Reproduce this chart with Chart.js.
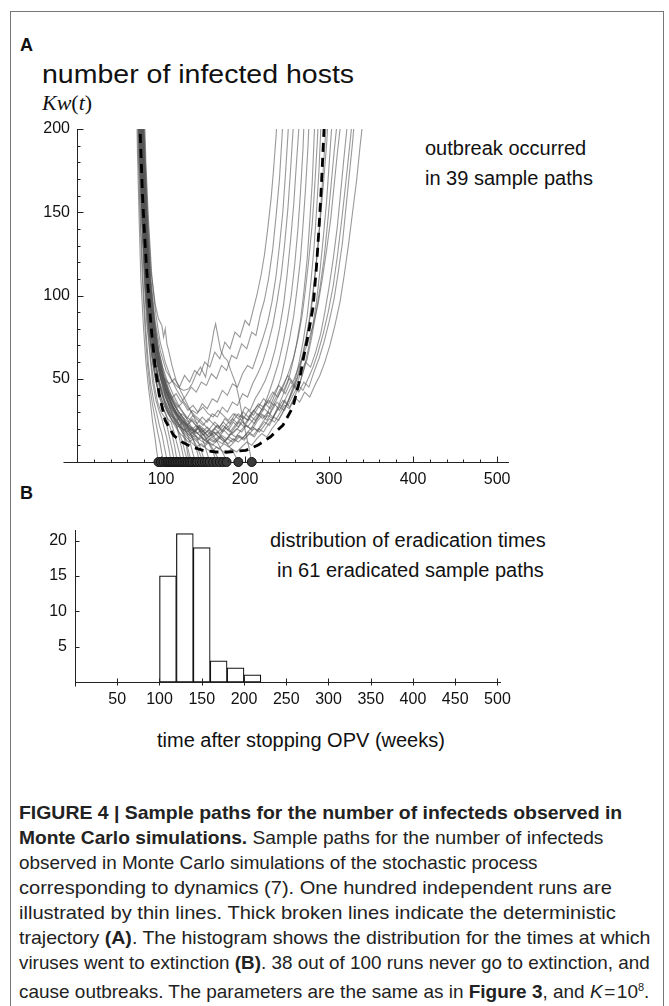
<!DOCTYPE html>
<html>
<head>
<meta charset="utf-8">
<script src="https://cdn.jsdelivr.net/npm/chart.js@4.4.0/dist/chart.umd.min.js"></script>
<style>
body { margin: 0; background: #fff; width: 669px; height: 1006px; position: relative; overflow: hidden;
       font-family: "Liberation Sans", Arial, sans-serif; color: #111; }
#frame { position: absolute; left: 10px; top: 11px; width: 654px; height: 1010px; border: 1px solid #777; box-sizing: border-box; }
.lbl { position: absolute; white-space: nowrap; line-height: 1; transform-origin: 0 50%; }
.note { font-size: 20px; }
.panel { font-size: 18px; font-weight: bold; }
canvas { position: absolute; left: 0; }
#caption { position: absolute; left: 19px; top: 800px; font-size: 19px; line-height: 25px; color: #222; white-space: nowrap; }
#caption .ln { display: inline-block; transform-origin: 0 50%; }
</style>
</head>
<body>
<div id="frame"></div>

<div class="lbl panel" style="left:20px;top:36px">A</div>
<div class="lbl" style="left:42px;top:62px;font-size:25px;transform:scaleX(1.14)">number of infected hosts</div>
<div class="lbl" style="left:42px;top:92px;font-size:22px;font-family:'Liberation Serif',serif"><i>Kw</i>(<i>t</i>)</div>
<div class="lbl note" style="left:425px;top:138px">outbreak occurred</div>
<div class="lbl note" style="left:425px;top:168px">in 39 sample paths</div>

<div class="lbl panel" style="left:20px;top:484px">B</div>
<div class="lbl note" style="left:270px;top:530px">distribution of eradication times</div>
<div class="lbl note" style="left:277px;top:560px">in 61 eradicated sample paths</div>
<div class="lbl note" style="left:157px;top:730px">time after stopping OPV (weeks)</div>

<canvas id="chartA" width="669" height="390" style="top:110px"></canvas>
<canvas id="chartB" width="669" height="230" style="top:505px"></canvas>

<div id="caption">
<div><span class="ln"><b>FIGURE 4 | Sample paths for the number of infecteds observed in</b></span></div>
<div><span class="ln"><b>Monte Carlo simulations.</b> Sample paths for the number of infecteds</span></div>
<div><span class="ln">observed in Monte Carlo simulations of the stochastic process</span></div>
<div><span class="ln">corresponding to dynamics (7). One hundred independent runs are</span></div>
<div><span class="ln">illustrated by thin lines. Thick broken lines indicate the deterministic</span></div>
<div><span class="ln">trajectory <b>(A)</b>. The histogram shows the distribution for the times at which</span></div>
<div><span class="ln">viruses went to extinction <b>(B)</b>. 38 out of 100 runs never go to extinction, and</span></div>
<div><span class="ln">cause outbreaks. The parameters are the same as in <b>Figure 3</b>, and <i>K</i>&#8202;=&#8202;10<sup style="font-size:11px">8</sup>.</span></div>
</div>

<script>
// panel A: deterministic trajectory (thick dashed line), [week, hosts]
const deterministicPath = [[74,215],[76,187],[78,160],[80,140],[83,115],[86,95],[89,77],[93,57],[98,40],[105,25],
    [115,16],[125,12],[137,9],[150,7],[165,6],[180,6],[201,7],[215,10],[230,15],[245,22],[257,33],[264,47],
    [269,61],[275,76],[281,93],[285,117],[288,140],[291,167],[294,200],[295,215]];

// sample paths that went extinct
const extinctPaths = [
    [[71,215],[72,185],[74,145],[76,110],[79,82],[82,60],[85,45],[88,33],[90,24],[93,14],[95,6],[97,0]],
    [[72,215],[73,185],[75,148],[78,108],[81,80],[84,58],[87,44],[90,34],[93,26],[96,18],[99,11],[101,5],[103,0]],
    [[72,215],[74,180],[76,142],[79,105],[82,79],[85,59],[88,46],[92,35],[95,29],[98,22],[101,17],[104,9],[106,4],[108,0]],
    [[73,215],[74,186],[77,146],[80,110],[83,84],[87,63],[90,48],[94,37],[98,30],[101,26],[104,20],[107,14],[110,6],[112,0]],
    [[73,215],[75,182],[78,141],[81,106],[84,82],[88,61],[92,46],[96,36],[100,30],[104,27],[107,22],[110,15],[113,8],[116,0]],
    [[74,215],[76,180],[79,140],[82,107],[86,81],[90,62],[94,49],[98,39],[102,33],[106,28],[110,22],[113,17],[116,10],[118,4],[120,0]],
    [[74,215],[76,183],[78,150],[81,112],[85,85],[89,64],[93,50],[98,40],[103,32],[108,26],[112,24],[116,17],[119,11],[122,5],[124,0]],
    [[75,215],[77,180],[80,141],[83,108],[87,83],[91,65],[96,51],[101,41],[106,34],[111,29],[115,26],[119,21],[122,14],[125,7],[128,0]],
    [[75,215],[77,184],[80,144],[84,106],[88,82],[93,62],[98,48],[103,38],[108,30],[113,25],[118,22],[122,17],[126,11],[129,5],[132,0]],
    [[74,215],[76,178],[79,139],[83,103],[88,78],[93,60],[99,47],[105,39],[111,33],[117,28],[122,22],[126,17],[130,10],[132,4],[134,0]],
    [[76,215],[78,182],[81,142],[85,107],[89,84],[94,66],[99,53],[104,44],[109,36],[114,31],[119,28],[124,22],[128,16],[132,8],[136,0]],
    [[76,215],[79,176],[82,138],[86,104],[91,80],[96,62],[101,49],[106,40],[111,34],[116,30],[121,26],[126,23],[131,17],[135,11],[138,5],[141,0]],
    [[77,215],[79,180],[82,145],[86,109],[90,86],[95,69],[100,56],[105,47],[110,40],[116,34],[121,30],[127,26],[132,21],[137,15],[142,8],[146,0]],
    [[73,215],[75,178],[78,139],[82,103],[86,78],[91,58],[96,45],[102,36],[108,29],[114,25],[120,21],[126,24],[132,19],[138,14],[143,9],[147,4],[150,0]],
    [[78,215],[80,183],[83,147],[87,111],[92,85],[97,67],[102,57],[108,48],[114,41],[120,35],[126,30],[132,25],[138,19],[143,14],[148,7],[152,0]],
    [[79,215],[81,185],[84,150],[88,115],[93,95],[97,86],[101,82],[103,75],[105,80],[107,71],[109,67],[113,58],[118,49],[124,42],
     [130,36],[136,30],[142,24],[147,17],[152,10],[155,5],[158,0]],
    [[78,215],[81,175],[84,138],[88,104],[93,79],[98,62],[104,50],[110,42],[117,36],[124,31],[131,27],[138,24],[145,20],[151,16],[157,11],[162,6],[166,0]],
    [[75,215],[77,181],[80,143],[84,108],[89,83],[94,64],[100,50],[106,41],[112,35],[118,30],[124,26],[130,23],[136,19],[142,22],[148,18],[154,14],[159,10],[164,6],[168,2],[170,0]],
    [[80,215],[82,180],[85,146],[89,112],[94,88],[99,72],[105,60],[112,50],[119,43],[126,37],[133,32],[140,28],[147,25],[154,21],[161,17],[167,12],[172,7],[176,3],[178,0]],
    [[77,215],[80,170],[83,133],[87,101],[92,77],[98,58],[104,46],[111,37],[118,30],[125,25],[132,21],[139,18],[146,22],[153,19],[160,16],[167,18],[174,14],[180,10],[185,7],[189,3],[192,0]],
    [[79,215],[81,180],[84,145],[88,110],[93,85],[99,67],[106,55],[113,49],[120,45],[127,43],[133,44],[137,47],[142,53],[147,57],[150,54],[153,51],
     [157,62],[161,73],[163,79],[165,83],[168,75],[171,67],[175,63],[179,61],[183,55],[186,51],[189,47],[193,38],[197,27],[201,17],[205,8],[208,0]]
];

// sample paths that ended in an outbreak
const outbreakPaths = [
    [[74,215],[76,182],[79,143],[83,107],[87,83],[92,66],[98,55],[104,50],[110,47],[116,50],[122,45],[128,52],[134,48],[140,55],[146,52],[152,60],[158,57],[164,66],
     [170,62],[176,72],[182,68],[188,78],[194,75],[200,85],[205,82],[210,92],[214,100],[219,112],[223,124],[227,140],[231,158],[234,176],[237,196],[239,215]],
    [[75,215],[77,180],[80,142],[84,106],[89,81],[94,63],[100,51],[106,43],[112,38],[118,41],[124,36],[130,40],[136,45],[142,42],[148,48],[154,46],[160,53],[166,50],
     [172,58],[178,55],[184,64],[190,62],[196,71],[202,68],[208,78],[213,76],[218,88],[223,97],[228,110],[233,128],[237,148],[241,170],[244,195],[246,215]],
    [[73,215],[75,180],[78,140],[81,105],[85,80],[90,60],[95,46],[101,37],[107,31],[113,27],[119,25],[125,29],[131,26],[137,31],[143,29],[149,35],[155,32],[161,38],
     [167,36],[173,43],[179,40],[185,47],[191,45],[197,53],[203,58],[209,56],[215,65],[221,74],[227,84],[232,96],[237,112],[241,130],[245,150],[248,172],[251,196],[253,215]],
    [[76,215],[78,181],[81,141],[85,106],[90,82],[95,64],[101,50],[107,41],[113,34],[119,29],[125,25],[131,22],[137,26],[143,23],[149,27],[155,24],[161,29],[167,27],
     [173,33],[179,30],[185,36],[191,34],[197,41],[203,39],[209,47],[215,53],[221,60],[227,70],[233,82],[238,96],[243,112],[247,130],[251,152],[254,174],[257,198],[259,215]],
    [[74,215],[76,179],[79,140],[83,104],[87,80],[92,61],[98,47],[104,37],[110,30],[116,25],[122,21],[128,19],[134,22],[140,18],[146,21],[152,17],[158,20],[164,24],
     [170,21],[176,26],[182,23],[188,29],[194,27],[200,33],[206,31],[212,38],[218,43],[224,49],[230,57],[236,68],[241,80],[246,95],[250,112],[254,132],[258,155],[261,178],[264,200],[265,215]],
    [[77,215],[79,180],[82,142],[86,107],[91,83],[96,65],[102,51],[108,41],[114,33],[120,27],[126,23],[132,20],[138,17],[144,20],[150,16],[156,19],[162,15],[168,18],
     [174,22],[180,19],[186,24],[192,21],[198,27],[204,25],[210,30],[216,35],[222,33],[228,41],[234,50],[240,60],[245,71],[250,84],[255,100],[259,118],[263,140],[266,162],[269,188],[271,215]],
    [[75,215],[77,182],[80,144],[84,108],[88,84],[93,65],[99,51],[105,40],[111,32],[117,26],[123,21],[129,17],[135,14],[141,16],[147,13],[153,11],[159,14],[165,12],
     [171,15],[177,13],[183,17],[189,15],[195,19],[201,22],[207,20],[213,25],[219,29],[225,27],[231,35],[237,42],[243,51],[248,62],[253,74],[258,88],[262,104],[266,122],
     [269,142],[272,164],[275,190],[277,215]],
    [[76,215],[78,183],[81,145],[85,110],[90,85],[95,66],[101,52],[107,42],[113,34],[119,28],[125,23],[131,19],[137,16],[143,13],[149,15],[155,12],[161,10],[167,13],
     [173,11],[179,14],[185,12],[191,16],[197,14],[203,18],[209,21],[215,19],[221,24],[227,28],[233,26],[239,33],[245,40],[251,48],[256,58],[261,70],[266,85],[270,102],
     [274,122],[277,144],[280,168],[282,192],[284,215]],
    [[77,215],[79,183],[82,145],[86,110],[91,84],[96,65],[102,52],[108,43],[114,37],[120,33],[126,36],[132,31],[138,34],[144,30],[150,33],[156,29],[162,27],[168,31],
     [174,28],[180,25],[186,29],[192,26],[198,30],[204,27],[210,31],[216,28],[222,33],[228,37],[234,34],[240,40],[246,46],[252,54],[258,63],[263,74],[268,88],[272,104],
     [276,122],[280,143],[283,166],[286,192],[288,215]],
    [[73,215],[75,181],[78,141],[82,105],[86,80],[91,61],[97,47],[103,37],[109,29],[115,23],[121,18],[127,15],[133,12],[139,14],[145,11],[151,9],[157,12],[163,10],
     [169,8],[175,11],[181,9],[187,12],[193,15],[199,13],[205,17],[211,15],[217,20],[223,24],[229,22],[235,28],[241,33],[247,31],[253,39],[259,48],[264,59],[269,72],
     [274,88],[278,106],[282,128],[285,150],[288,175],[290,198],[291,215]],
    [[77,215],[79,182],[82,144],[86,109],[91,84],[96,66],[102,52],[108,42],[114,34],[120,28],[126,24],[132,20],[138,17],[144,14],[150,17],[156,14],[162,12],[168,15],
     [174,13],[180,11],[186,14],[192,12],[198,15],[204,18],[210,16],[216,20],[222,18],[228,23],[234,27],[240,25],[246,31],[252,37],[258,44],[264,53],[269,64],[274,77],
     [279,92],[283,110],[287,130],[290,152],[293,175],[296,198],[298,215]],
    [[75,215],[77,182],[80,143],[84,108],[89,82],[94,63],[100,49],[106,38],[112,30],[118,24],[124,19],[130,15],[136,12],[142,9],[148,11],[154,8],[160,6],[166,9],
     [172,7],[178,5],[184,8],[190,6],[196,9],[202,12],[208,10],[214,14],[220,17],[226,15],[232,20],[238,24],[244,29],[250,35],[256,42],[262,51],[267,61],[272,73],
     [277,87],[281,103],[285,121],[289,142],[293,165],[297,190],[300,215]],
    [[78,215],[80,184],[83,147],[87,111],[92,86],[97,68],[103,54],[109,44],[115,36],[121,30],[127,26],[133,22],[139,19],[145,22],[151,18],[157,15],[163,18],[169,15],
     [175,12],[181,15],[187,13],[193,16],[199,14],[205,17],[211,20],[217,18],[223,22],[229,26],[235,24],[241,29],[247,34],[253,32],[259,39],[265,47],[270,56],[275,67],
     [280,80],[285,96],[289,114],[293,134],[297,156],[300,178],[303,200],[305,215]],
    [[75,215],[77,180],[80,142],[84,106],[89,82],[94,63],[100,49],[106,39],[112,31],[118,25],[124,21],[130,18],[136,15],[142,18],[148,15],[154,12],[160,15],[166,13],
     [172,16],[178,14],[184,17],[190,20],[196,18],[202,22],[208,19],[214,24],[220,28],[226,25],[232,31],[238,36],[244,33],[250,40],[256,46],[262,43],[268,52],[274,62],
     [279,74],[284,88],[289,104],[294,122],[298,142],[302,164],[306,186],[310,206],[311,215]],
    [[76,215],[78,181],[81,143],[85,108],[90,83],[95,65],[101,51],[107,41],[113,34],[119,29],[125,25],[131,22],[137,25],[143,21],[149,18],[155,21],[161,18],[167,22],
     [173,19],[179,23],[185,26],[191,23],[197,28],[203,25],[209,30],[215,34],[221,31],[227,37],[233,42],[239,39],[245,46],[251,52],[257,48],[263,56],[269,64],[275,72],
     [281,82],[287,95],[292,110],[297,127],[302,146],[306,166],[310,186],[314,204],[316,215]],
    [[74,215],[76,181],[79,141],[83,105],[87,81],[92,62],[98,48],[104,38],[110,31],[116,26],[122,22],[128,19],[134,16],[140,19],[146,16],[152,13],[158,16],[164,20],
     [170,17],[176,21],[182,18],[188,22],[194,26],[200,23],[206,28],[212,25],[218,30],[224,35],[230,32],[236,38],[242,44],[248,41],[254,48],[260,45],[266,53],[272,60],
     [278,57],[284,66],[290,77],[295,90],[300,105],[305,122],[310,142],[314,163],[318,184],[322,204],[324,215]],
    [[76,215],[78,182],[81,144],[85,109],[90,84],[95,65],[101,51],[107,41],[113,33],[119,27],[125,22],[131,18],[137,21],[143,17],[149,20],[155,16],[161,19],[167,22],
     [173,18],[179,21],[185,17],[191,20],[197,24],[203,21],[209,25],[215,29],[221,26],[227,30],[233,27],[239,32],[245,37],[251,34],[257,40],[263,46],[269,43],[275,50],
     [281,57],[287,66],[293,77],[299,90],[305,106],[310,124],[315,145],[320,168],[325,192],[329,212],[330,215]],
    [[77,215],[79,183],[82,146],[86,110],[91,85],[96,67],[102,53],[108,43],[114,36],[120,31],[126,27],[132,24],[138,28],[144,25],[150,22],[156,26],[162,23],[168,20],
     [174,24],[180,21],[186,25],[192,29],[198,26],[204,31],[210,28],[216,33],[222,38],[228,35],[234,41],[240,46],[246,43],[252,50],[258,47],[264,42],[270,48],[276,45],
     [282,54],[288,62],[294,72],[300,84],[306,98],[311,114],[316,132],[320,152],[324,172],[328,192],[331,210],[332,215]],
    [[78,215],[80,182],[83,145],[87,109],[92,84],[97,66],[103,52],[109,42],[115,35],[121,29],[127,25],[133,21],[139,18],[145,21],[151,18],[157,15],[163,18],[169,15],
     [175,19],[181,16],[187,20],[193,24],[199,21],[205,26],[211,23],[217,28],[223,32],[229,29],[235,35],[241,31],[247,37],[253,33],[259,39],[265,36],[271,42],[277,39],
     [283,46],[289,52],[295,60],[301,70],[307,82],[313,96],[318,112],[323,130],[328,150],[333,170],[337,190],[341,208],[342,215]]
];

// weeks at which a run reached zero (dots on the axis)
const extinctionTimes = [97,100,103,106,108,110,112,114,116,118,120,122,124,126,128,130,132,134,136,138,
    141,143,146,149,152,155,158,162,166,170,174,178,192,208];

const xTicksA = [100, 200, 300, 400, 500];
const yTicksA = [50, 100, 150, 200];

// panel B: histogram of eradication times
const binStarts = [100, 120, 140, 160, 180, 200];
const binCounts = [15, 21, 19, 3, 2, 1];
const binWidth = 20;
const xTicksB = [50, 100, 150, 200, 250, 300, 350, 400, 450, 500];
const yTicksB = [5, 10, 15, 20];

const tickFont = { family: 'Liberation Sans', size: 16 };
const toXY = p => p.map(([x, y]) => ({ x, y }));

// inward pointing tick marks, like the original plot
const tickMarks = {
    id: 'tickMarks',
    afterDraw(chart, args, o) {
        const { ctx, scales: { x, y } } = chart;
        const y0 = Math.round(y.getPixelForValue(0)) + 0.5;
        const x0 = Math.round(x.getPixelForValue(0)) + 0.5;
        ctx.save();
        ctx.strokeStyle = '#222';
        ctx.lineWidth = 1;
        ctx.beginPath();
        if (o.extendLeft) {
            ctx.moveTo(x0 - o.extendLeft, y0);
            ctx.lineTo(x0, y0);
        }
        if (o.extendDown) {
            ctx.moveTo(x0, y0);
            ctx.lineTo(x0, y0 + o.extendDown);
        }
        for (let v = o.xStep; v <= x.max; v += o.xStep) {
            const px = Math.round(x.getPixelForValue(v)) + 0.5;
            const len = v % o.xMajor === 0 ? o.major : o.minor;
            ctx.moveTo(px, y0 + o.below);
            ctx.lineTo(px, y0 - len);
        }
        for (let v = o.yStep; v <= y.max; v += o.yStep) {
            const py = Math.round(y.getPixelForValue(v)) + 0.5;
            const len = v % o.yMajor === 0 ? o.major : o.minor;
            ctx.moveTo(x0, py);
            ctx.lineTo(x0 + len, py);
        }
        ctx.stroke();
        ctx.restore();
    }
};

function axisOpts(min, max, ticks, size, pad) {
    return {
        type: 'linear', min, max, offset: false,
        grid: { display: false, drawTicks: false },
        border: { color: '#222', width: 1 },
        afterBuildTicks: s => { s.ticks = ticks.map(v => ({ value: v })); },
        afterFit: s => { if (s.isHorizontal()) s.height = size; else s.width = size; },
        ticks: { font: tickFont, color: '#111', padding: pad, maxRotation: 0, autoSkip: false }
    };
}

const pathSets = [
    { data: toXY(deterministicPath), borderColor: '#000', borderWidth: 2.8, borderDash: [9, 6], order: 1 },
    ...extinctPaths.concat(outbreakPaths).map(p => ({
        data: toXY(p), borderColor: 'rgba(85,85,85,0.6)', borderWidth: 1.1, order: 3
    }))
];

new Chart(document.getElementById('chartA'), {
    type: 'line',
    data: {
        datasets: [
            {
                type: 'scatter', data: extinctionTimes.map(t => ({ x: t, y: 0 })),
                pointRadius: 4.5, pointBackgroundColor: '#3a3a3a', pointBorderColor: '#111', pointBorderWidth: 1,
                clip: false, order: 0
            },
            ...pathSets
        ]
    },
    options: {
        responsive: false,
        animation: false,
        events: [],
        elements: { point: { radius: 0 }, line: { tension: 0 } },
        layout: { padding: { top: 19, right: 161, bottom: 0, left: 0 } },
        plugins: {
            legend: { display: false },
            tooltip: { enabled: false },
            tickMarks: { xStep: 20, xMajor: 100, yStep: 10, yMajor: 50, major: 6, minor: 3, below: 0, extendLeft: 14 }
        },
        scales: {
            x: axisOpts(0, 513, xTicksA, 38, 8),
            y: axisOpts(0, 200, yTicksA, 77, 7)
        }
    },
    plugins: [tickMarks]
});

new Chart(document.getElementById('chartB'), {
    type: 'bar',
    data: {
        datasets: [{
            data: binStarts.map((b, i) => ({ x: b + binWidth / 2, y: binCounts[i] })),
            backgroundColor: '#fff',
            borderColor: '#111',
            borderWidth: 1.2,
            borderSkipped: false,
            barPercentage: 1,
            categoryPercentage: 1
        }]
    },
    options: {
        responsive: false,
        animation: false,
        events: [],
        layout: { padding: { top: 25, right: 169, bottom: 0, left: 0 } },
        plugins: {
            legend: { display: false },
            tooltip: { enabled: false },
            tickMarks: { xStep: 50, xMajor: 50, yStep: 5, yMajor: 5, major: 4, minor: 4, below: 3, extendDown: 4 }
        },
        scales: {
            x: axisOpts(0, 503, xTicksB, 53, 8),
            y: axisOpts(0, 21.5, yTicksB, 75, 8)
        }
    },
    plugins: [tickMarks]
});

// stretch each caption line to the width it has in the printed figure
const captionWidths = [603, 585, 519, 593, 597, 631, 631, 631];
document.querySelectorAll('#caption .ln').forEach((el, i) => {
    el.style.transform = 'scaleX(' + (captionWidths[i] / el.offsetWidth).toFixed(3) + ')';
});
</script>
</body>
</html>
